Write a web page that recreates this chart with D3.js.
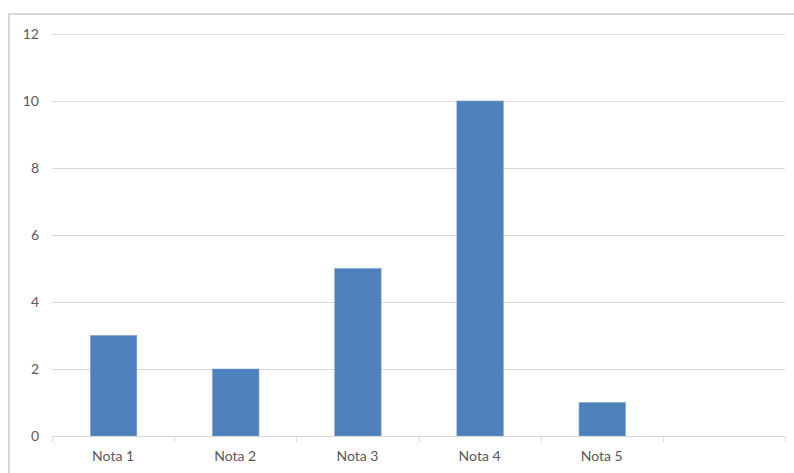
<!DOCTYPE html>
<html>
<head>
<meta charset="utf-8">
<script src="https://cdn.jsdelivr.net/npm/d3@7/dist/d3.min.js"></script>
<style>
  html, body { margin: 0; padding: 0; background: #fff; }
  svg { display: block; }
  text { font-family: Lato, "Open Sans", sans-serif; font-size: 14px; fill: #595959; }
</style>
</head>
<body>
<svg id="chart" width="794" height="473"></svg>
<script>
// Column chart: one series across six category slots (last slot empty)
const categories = ["Nota 1", "Nota 2", "Nota 3", "Nota 4", "Nota 5", ""];
const values = [3, 2, 5, 10, 1, null];
const yTicks = [0, 2, 4, 6, 8, 10, 12];

const svg = d3.select("#chart");
const plot = { left: 52, right: 785, top: 34, bottom: 436 };

// chart frame
svg.append("rect")
  .attr("x", 9).attr("y", 14)
  .attr("width", 800).attr("height", 500)
  .attr("fill", "#fff")
  .attr("stroke", "#d9d9d9").attr("stroke-width", 2);

const x = d3.scaleBand().domain(categories).range([plot.left, plot.right]).paddingInner(0).paddingOuter(0);
const y = d3.scaleLinear().domain([0, 12]).range([plot.bottom, plot.top]);

// gridlines
svg.append("g").selectAll("line").data(yTicks.filter(t => t > 0)).join("line")
  .attr("x1", plot.left).attr("x2", plot.right)
  .attr("y1", d => Math.round(y(d)) + 0.5).attr("y2", d => Math.round(y(d)) + 0.5)
  .attr("stroke", "#d9d9d9").attr("stroke-width", 1);

// y axis labels
const yAxis = d3.axisLeft(y).tickValues(yTicks).tickSize(0).tickPadding(0);
const gy = svg.append("g").attr("transform", `translate(39,0)`).call(yAxis);
gy.select(".domain").remove();
gy.selectAll("text").attr("dy", "0.35em").style("font-size", "14px").attr("fill", "#595959");

// bars
const barW = x.bandwidth() * 0.38;
svg.append("g").selectAll("rect").data(categories.map((c, i) => ({ c, v: values[i] })).filter(d => d.v != null))
  .join("rect")
  .attr("x", d => x(d.c) + (x.bandwidth() - barW) / 2 + 0.5)
  .attr("y", d => y(d.v))
  .attr("width", barW)
  .attr("height", d => y(0) - y(d.v))
  .attr("fill", "#4f81bd")
  .attr("stroke", "#7a9fcf").attr("stroke-width", 0.6);

// x axis
const xAxis = d3.axisBottom(x).tickSize(0).tickPadding(0);
const gx = svg.append("g").attr("transform", `translate(0,${plot.bottom})`).call(xAxis);
gx.select(".domain").remove();
gx.selectAll(".tick text").attr("y", 25).attr("dy", 0).attr("fill", "#595959").style("font-size", "14px");

svg.append("line")
  .attr("x1", plot.left).attr("x2", plot.right)
  .attr("y1", plot.bottom + 0.5).attr("y2", plot.bottom + 0.5)
  .attr("stroke", "#d9d9d9");
// category boundary ticks
const bounds = categories.map(c => x(c)).concat([plot.right]);
svg.append("g").selectAll("line").data(bounds).join("line")
  .attr("x1", d => Math.round(d) + 0.5).attr("x2", d => Math.round(d) + 0.5)
  .attr("y1", plot.bottom).attr("y2", plot.bottom + 6)
  .attr("stroke", "#d9d9d9");
</script>
</body>
</html>
